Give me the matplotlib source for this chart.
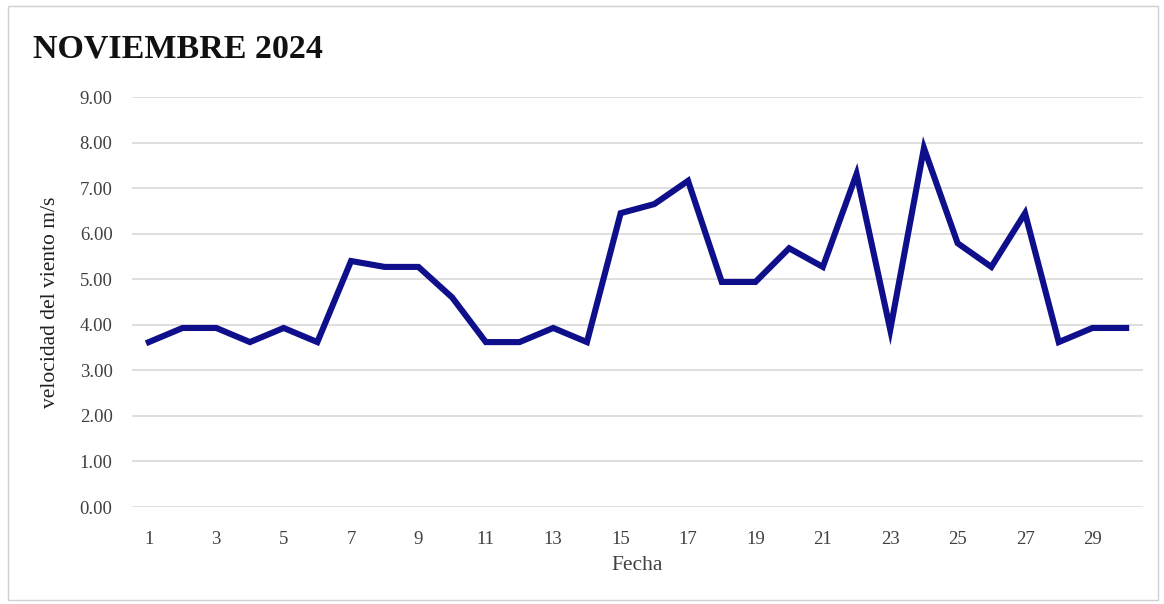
import matplotlib
matplotlib.use("Agg")
import matplotlib.pyplot as plt
from matplotlib.patches import Rectangle

days = list(range(1, 31))
speed = [3.62, 3.93, 3.93, 3.62, 3.93, 3.62, 5.40, 5.27, 5.27, 4.60,
         3.62, 3.62, 3.93, 3.62, 6.45, 6.65, 7.16, 4.94, 4.94, 5.68,
         5.27, 7.31, 3.89, 7.88, 5.79, 5.27, 6.45, 3.62, 3.93, 3.93]
yticks = [0, 1, 2, 3, 4, 5, 6, 7, 8, 9]
xticks = list(range(1, 31, 2))

plt.rcParams['font.family'] = ['Liberation Serif', 'DejaVu Serif']

fig = plt.figure(figsize=(11.64, 6.04), dpi=100)
fig.patches.append(Rectangle((8/1164, 4/604), 1150/1164, 594/604, transform=fig.transFigure,
                             fill=False, edgecolor='#d0d0d0', linewidth=1.0))
ax = fig.add_axes([132/1164, 1-507/604, (1143-132)/1164, (507-97)/604])

ax.plot(days, speed, color='#0f0f8c', linewidth=4.4, solid_joinstyle='miter', zorder=3)
ax.set_xlim(0.5, 30.5)
ax.set_ylim(0, 9)
ax.set_yticks(yticks)
ax.set_yticklabels([f"{v:.2f}" for v in yticks])
ax.set_xticks(xticks)
ax.grid(axis='y', color='#d9d9d9', linewidth=1.2)
ax.set_axisbelow(True)
for s in ax.spines.values():
    s.set_visible(False)
ax.tick_params(length=0, labelsize=13.5, colors='#404040')
ax.tick_params(axis='x', pad=17)
ax.tick_params(axis='y', pad=14)
ax.set_xlabel('Fecha', fontsize=15.5, color='#404040', labelpad=6)
ax.set_ylabel('velocidad del viento m/s', fontsize=15.5, color='#202020', labelpad=14)
fig.text(33/1164, 1-49/604, 'NOVIEMBRE 2024', fontsize=24.5, fontweight='bold',
         va='center', ha='left', color='#111111')
fig.savefig('out.png', dpi=100)
